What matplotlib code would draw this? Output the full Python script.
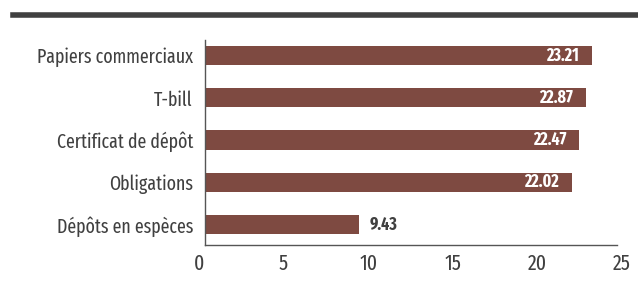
import matplotlib
matplotlib.use("Agg")
import matplotlib.pyplot as plt
from matplotlib.lines import Line2D

plt.rcParams['font.family'] = ['Fira Sans Extra Condensed', 'Fira Sans Condensed', 'DejaVu Sans']

# data
categories = ["Dépôts en espèces", "Obligations", "Certificat de dépôt", "T-bill", "Papiers commerciaux"]
values = [9.43, 22.02, 22.47, 22.87, 23.21]
xticks = [0, 5, 10, 15, 20, 25]

bar_color = "#7e4a41"
text_color = "#404040"
x0 = 0.38  # where the axis line sits

fig = plt.figure(figsize=(6.38, 2.83), dpi=100)
ax = fig.add_axes([0.3119, 0.1343, 0.663, 0.7244])

ypos = list(range(len(categories)))
ax.barh(ypos, [v - x0 for v in values], left=x0, height=0.45, color=bar_color, zorder=2)

for y, v in zip(ypos, values):
    if v > 15:
        ax.text(v - 0.75, y, f"{v:.2f}", ha="right", va="center", color="white",
                fontsize=12.5, fontweight="bold", zorder=3)
    else:
        ax.text(v + 0.65, y, f"{v:.2f}", ha="left", va="center", color=text_color,
                fontsize=12.5, fontweight="bold", zorder=3)

ax.set_xlim(0, 25)
ax.set_ylim(-0.485, 4.367)
ax.set_xticks(xticks)
ax.set_xticklabels([str(t) for t in xticks])
ax.set_yticks(ypos)
ax.set_yticklabels(categories)
ax.tick_params(length=0, colors=text_color)
ax.tick_params(axis="y", pad=9, labelsize=14)
ax.tick_params(axis="x", pad=6, labelsize=15.5)

for s in ["top", "right"]:
    ax.spines[s].set_visible(False)
ax.spines["left"].set_position(("data", x0))
ax.spines["bottom"].set_bounds(x0, 24.7)
for s in ["left", "bottom"]:
    ax.spines[s].set_color("#555555")
    ax.spines[s].set_linewidth(1.0)

# dark rule at the top of the figure
fig.add_artist(Line2D([13 / 638, 636 / 638], [1 - 15 / 283, 1 - 15 / 283],
                      color="#404040", linewidth=4, transform=fig.transFigure))

fig.savefig("out.png", dpi=100)
